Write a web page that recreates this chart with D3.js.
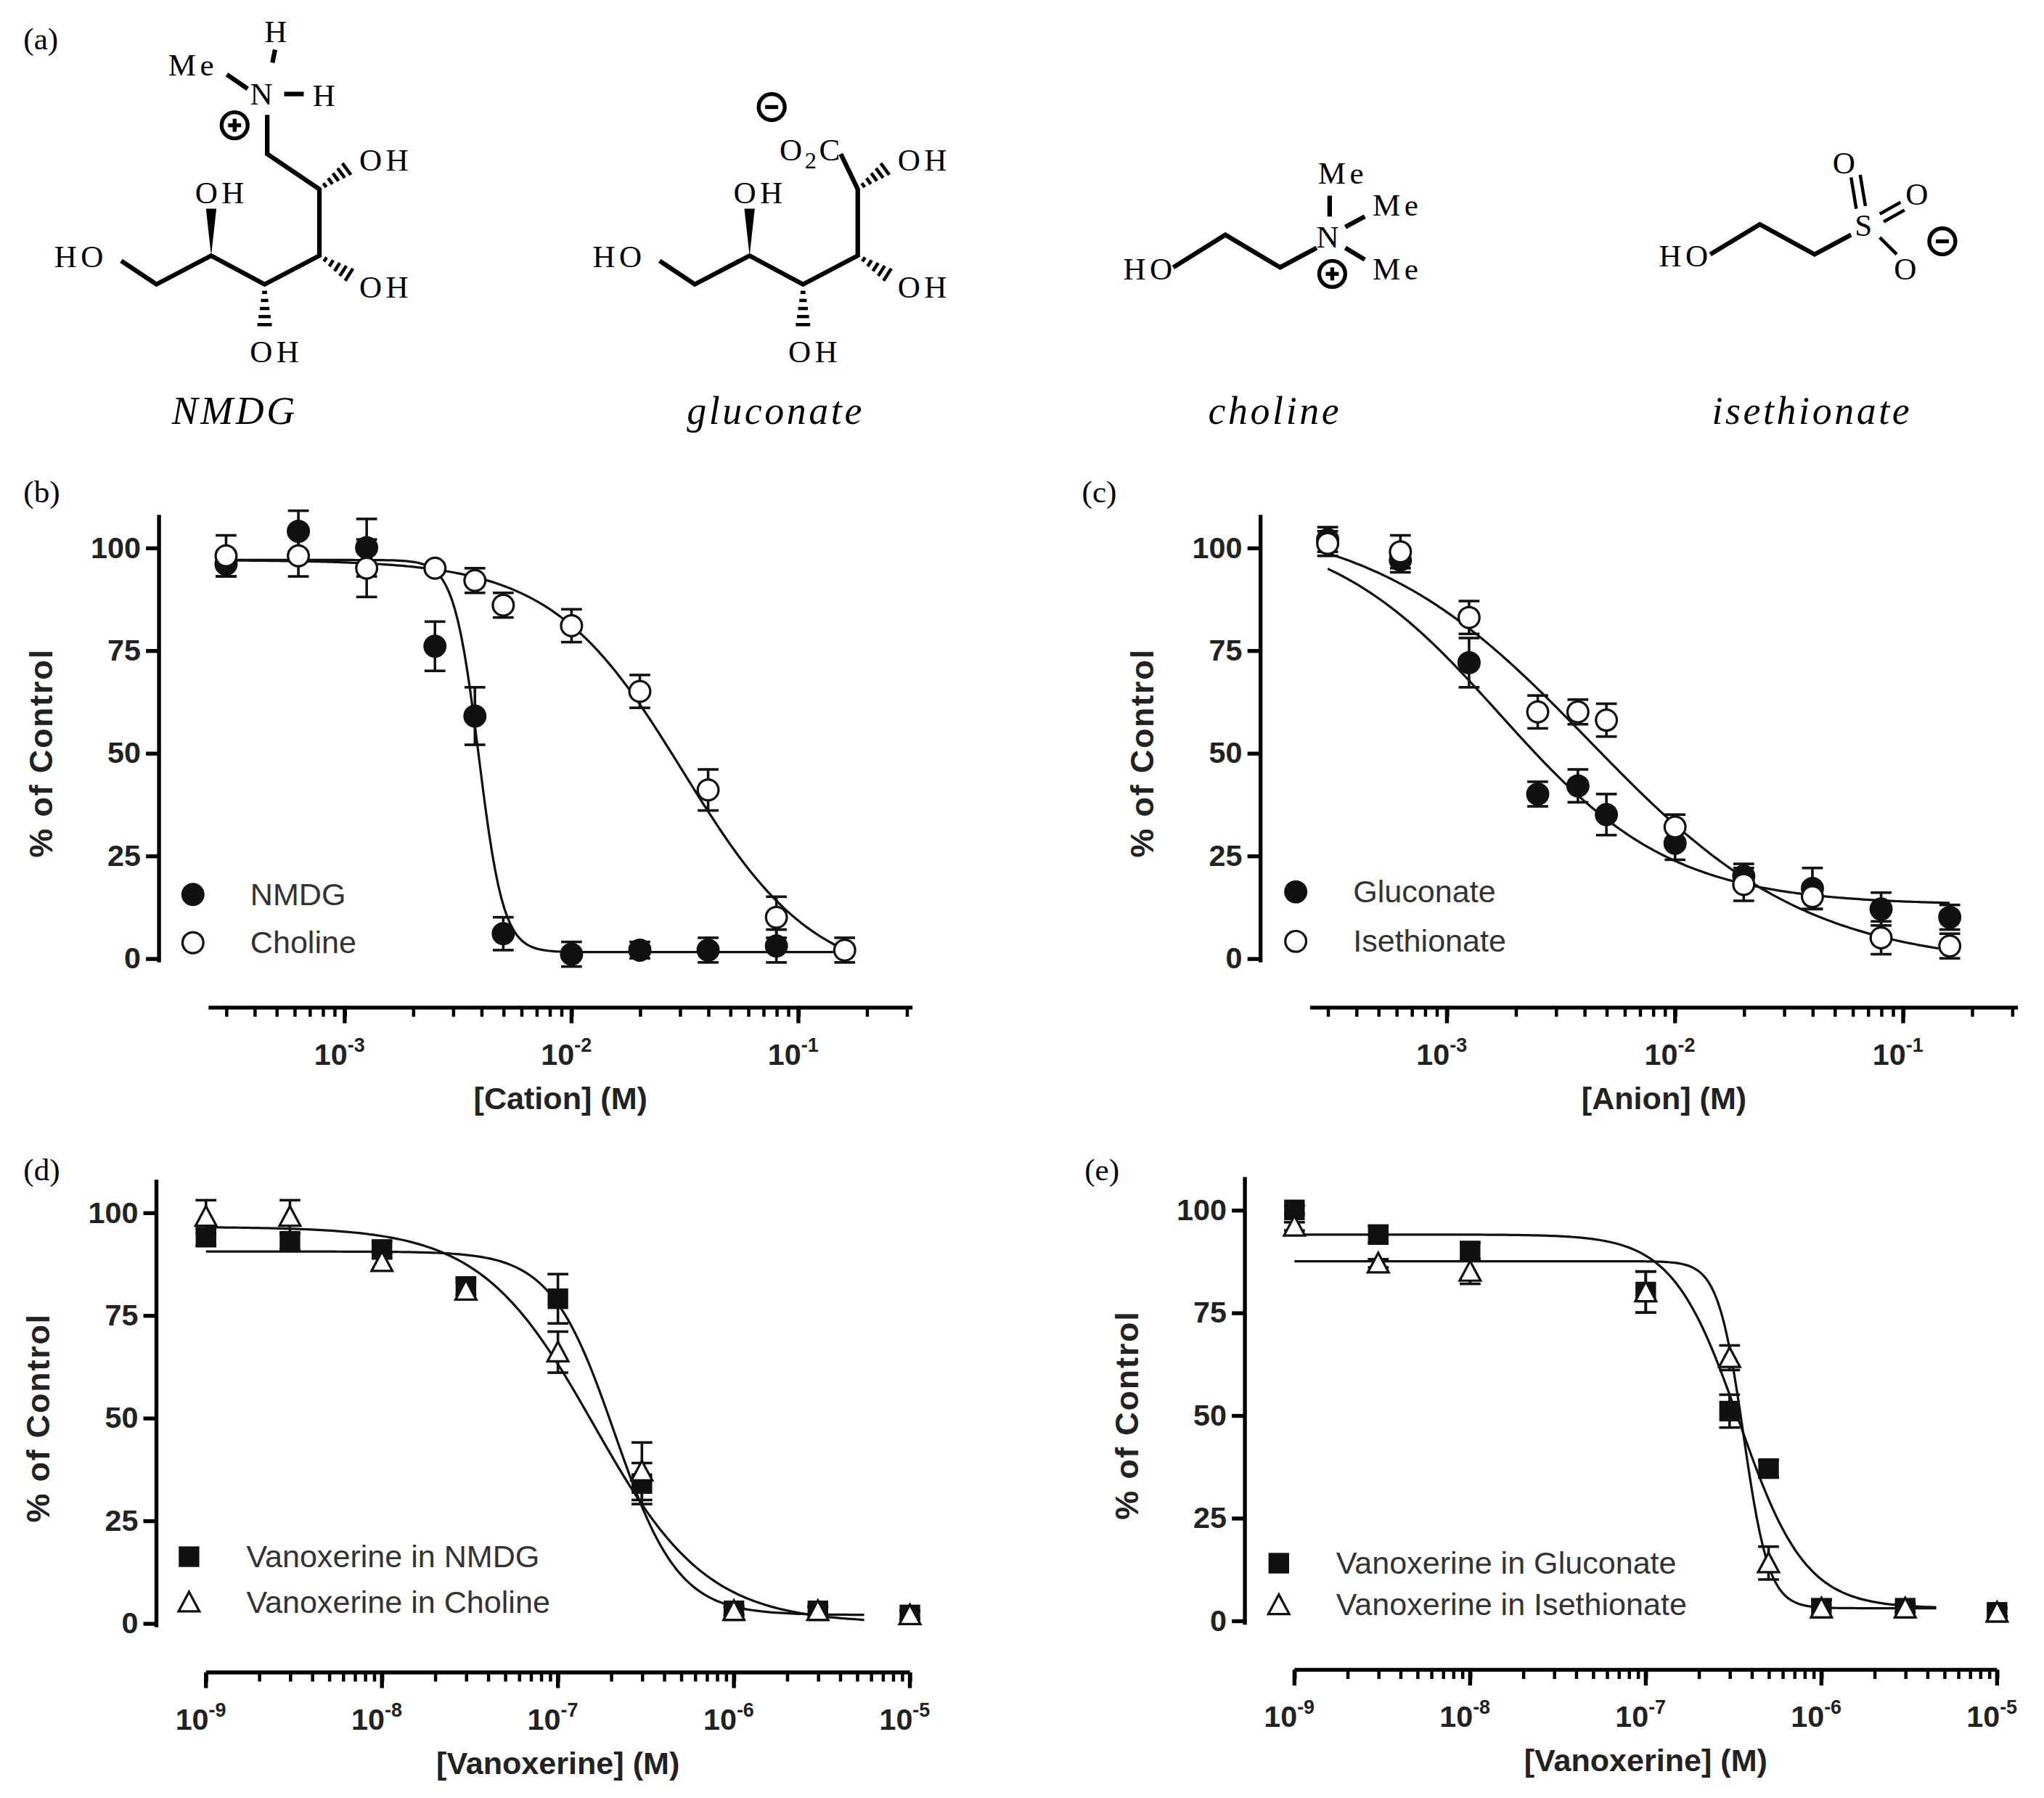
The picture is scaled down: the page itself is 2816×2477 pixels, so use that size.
<!DOCTYPE html>
<html><head><meta charset="utf-8">
<script src="https://cdn.jsdelivr.net/npm/d3@7"></script>
<style>body{margin:0;background:#fff}</style>
</head><body>
<script>
// panel data (concentrations in M, response in % of control)
var concB = [3e-4, 6.25e-4, 1.25e-3, 2.5e-3, 3.75e-3, 5e-3, 1e-2, 2e-2, 4e-2, 8e-2, 1.6e-1];
var nmdgY = [96, 104, 100, 76, 59, 6, 1, 2, 2, 3, null];
var nmdgE = [3, 5, 7, 6, 7, 4, 3, 2, 3, 4, null];
var cholY = [98, 98, 95, 95, 92, 86, 81, 65, 41, 10, 2];
var cholE = [5, 5, 7, 1, 3, 3, 4, 4, 5, 5, 3];
var glucY = [102, 97, 72, 40, 42, 35, 28, 20, 17, 12, 10];
var glucE = [3, 3, 6, 3, 4, 5, 4, 3, 5, 4, 3];
var iseY = [101, 99, 83, 60, 60, 58, 32, 18, 15, 5, 3];
var iseE = [3, 4, 4, 4, 3, 4, 3, 4, 3, 4, 3];

var concD = [1e-9, 3e-9, 1e-8, 3e-8, 1e-7, 3e-7, 1e-6, 3e-6, 1e-5];
var vNmdgY = [94, 93, 91, 82, 79, 34, 3, 3, 2];
var vNmdgE = [2, 2, 2, 2, 6, 5, 1, 1, 1];
var vCholY = [99, 99, 88, 81, 66, 37, 3, 3, 2];
var vCholE = [4, 4, 2, 2, 5, 7, 1, 1, 1];
var concE = [1e-9, 3e-9, 1e-8, 1e-7, 3e-7, 5e-7, 1e-6, 3e-6, 1e-5];
var vGlucY = [100, 94, 90, 80, 51, 37, 3, 3, 2];
var vGlucE = [1, 2, 2, 5, 4, 2, 2, 1, 1];
var vIseY = [96, 87, 85, 80, 64, 14, 3, 3, 2];
var vIseE = [1, 1, 3, 5, 3, 4, 2, 1, 1];

// fitted curves: [top, bottom, IC50, hill, xStart, xEnd]
var fitNmdg = [97, 1.5, 3.9e-3, 8, 3e-4, 1.6e-1];
var fitChol = [97, -6, 3.1e-2, 1.5, 3e-4, 1.6e-1];
var fitGluc = [106, 13, 1.7e-3, 1.15, 3e-4, 1.6e-1];
var fitIse = [108, -2, 4.2e-3, 0.9, 3e-4, 1.6e-1];
var fitVNmdg = [90.5, 2, 2.1e-7, 2.4, 1e-9, 5.5e-6];
var fitVChol = [96.5, 0, 1.6e-7, 1.35, 1e-9, 5.5e-6];
var fitVGluc = [94, 3, 3.4e-7, 2.3, 1e-9, 4.5e-6];
var fitVIse = [87.5, 3, 3.6e-7, 6, 1e-9, 4.5e-6];

var yTicks = [0, 25, 50, 75, 100];

var svg = d3.select('body').append('svg')
  .attr('width', 2816).attr('height', 2477)
  .attr('viewBox', '0 0 1568 1379');

var serif = 'Liberation Serif';
var sans = 'Liberation Sans';

// ---------- (a) structures ----------
var st = svg.append('g').attr('font-family', serif).attr('font-size', 24).attr('fill', '#000');
function bond(pts, w) {
  st.append('polyline').attr('points', pts.map(function(p){return p.join(',');}).join(' '))
    .attr('fill', 'none').attr('stroke', '#000').attr('stroke-width', w || 3.5).attr('stroke-linejoin', 'miter');
}
function txt(x, y, s, anchor) {
  st.append('text').attr('x', x).attr('y', y).attr('text-anchor', anchor || 'middle')
    .attr('letter-spacing', 3).text(s);
}
function wedge(x1, y1, x2, y2) {
  var dx = x2 - x1, dy = y2 - y1, l = Math.hypot(dx, dy), nx = -dy / l * 4, ny = dx / l * 4;
  st.append('polygon').attr('points', [[x1, y1], [x2 + nx, y2 + ny], [x2 - nx, y2 - ny]].join(' '));
}
function hash(x1, y1, x2, y2) {
  var dx = x2 - x1, dy = y2 - y1, l = Math.hypot(dx, dy), nx = -dy / l, ny = dx / l;
  for (var i = 1; i <= 5; i++) {
    var t = i / 5.5, w = 1 + t * 5;
    st.append('line').attr('x1', x1 + dx * t + nx * w).attr('y1', y1 + dy * t + ny * w)
      .attr('x2', x1 + dx * t - nx * w).attr('y2', y1 + dy * t - ny * w)
      .attr('stroke', '#000').attr('stroke-width', 2.5);
  }
}
function charge(x, y, plus) {
  st.append('circle').attr('cx', x).attr('cy', y).attr('r', 10).attr('fill', 'none').attr('stroke', '#000').attr('stroke-width', 3);
  st.append('line').attr('x1', x - 5).attr('x2', x + 5).attr('y1', y).attr('y2', y).attr('stroke', '#000').attr('stroke-width', 3);
  if (plus) st.append('line').attr('x1', x).attr('x2', x).attr('y1', y - 5).attr('y2', y + 5).attr('stroke', '#000').attr('stroke-width', 3);
}
function chain(ox, nmdg) {
  txt(ox + 62, 205, 'HO');
  if (nmdg) {
    bond([[ox + 93, 200], [ox + 120, 218], [ox + 162, 196], [ox + 203, 218], [ox + 245, 196], [ox + 245, 145], [ox + 205, 118], [ox + 205, 88]]);
  } else {
    bond([[ox + 93, 200], [ox + 120, 218], [ox + 162, 196], [ox + 203, 218], [ox + 245, 196], [ox + 245, 145], [ox + 232, 118]]);
  }
  wedge(ox + 162, 196, ox + 162, 160);
  txt(ox + 170, 156, 'OH');
  hash(ox + 203, 218, ox + 203, 252);
  txt(ox + 212, 278, 'OH');
  hash(ox + 245, 145, ox + 268, 128);
  txt(ox + 296, 131, 'OH');
  hash(ox + 245, 196, ox + 270, 212);
  txt(ox + 296, 228, 'OH');
}
chain(0, true);
txt(148, 58, 'Me'); bond([[174, 57], [190, 68]]);
txt(202, 80, 'N');
txt(213, 32, 'H'); bond([[211, 38], [209, 48]]);
bond([[218, 72], [233, 72]]); txt(250, 81, 'H');
charge(180, 96, true);
chain(413, false);
st.append('text').attr('x', 598).attr('y', 123).attr('letter-spacing', 2).text('O').append('tspan').attr('dy', 6).attr('font-size', 18).text('2')
  .select(function(){return this.parentNode;}).append('tspan').attr('dy', -6).text('C');
charge(592, 82, false);
// choline
txt(882, 214, 'HO');
bond([[900, 205], [940, 180], [982, 205], [1010, 190]]);
txt(1020, 190, 'N');
txt(1030, 141, 'Me', 'middle'); bond([[1020, 150], [1020, 166]]);
bond([[1032, 174], [1047, 166]]); txt(1072, 165, 'Me');
bond([[1032, 190], [1047, 199]]); txt(1072, 214, 'Me');
charge(1022, 210, true);
// isethionate
txt(1293, 204, 'HO');
bond([[1312, 195], [1350, 172], [1392, 195], [1420, 180]]);
txt(1431, 181, 'S');
bond([[1424, 160], [1420, 136]], 2.5); bond([[1431, 158], [1427, 134]], 2.5);
txt(1416, 133, 'O');
bond([[1442, 164], [1458, 155]], 2.5); bond([[1445, 170], [1461, 161]], 2.5);
txt(1472, 157, 'O');
bond([[1442, 182], [1455, 195]], 2.5);
txt(1463, 214, 'O');
charge(1490, 185, false);
// names
[['NMDG', 180], ['gluconate', 595], ['choline', 978], ['isethionate', 1390]].forEach(function(d) {
  st.append('text').attr('x', d[1]).attr('y', 325).attr('text-anchor', 'middle').attr('font-style', 'italic')
    .attr('font-size', 30).attr('letter-spacing', 2).text(d[0]);
});

// panel labels
[['(a)', 18, 38], ['(b)', 18, 385], ['(c)', 830, 385], ['(d)', 18, 905], ['(e)', 832, 905]].forEach(function(d) {
  svg.append('text').attr('x', d[1]).attr('y', d[2]).attr('font-family', serif).attr('font-size', 24).text(d[0]);
});

// ---------- dose-response panels ----------
function sup(sel, e) {
  sel.text('10').append('tspan').attr('dy', -10).attr('font-size', 15).text(e);
}
function hill(f, x) { return f[1] + (f[0] - f[1]) / (1 + Math.pow(x / f[2], f[3])); }

function panel(o) {
  var g = svg.append('g');
  var y = d3.scaleLinear().domain([0, 100]).range([o.y0, o.y100]);
  var x = d3.scaleLog().domain(o.xd).range([o.xl, o.xr]);
  var axY = o.xl - 38;
  var xAxisY = y(-12);
  // y axis
  g.append('line').attr('x1', axY).attr('x2', axY).attr('y1', y(108)).attr('y2', y(-1)).attr('stroke', '#000').attr('stroke-width', 3);
  var ya = g.append('g').attr('transform', 'translate(' + axY + ',0)')
    .call(d3.axisLeft(y).tickValues(yTicks).tickSize(10).tickPadding(4));
  ya.select('.domain').remove();
  ya.selectAll('line').attr('stroke-width', 3);
  ya.selectAll('text').attr('font-family', sans).attr('font-weight', 'bold').attr('font-size', 23).attr('fill', '#222');
  // x axis
  var maj = [], all = [];
  var lo = Math.floor(Math.log10(o.xd[0])), hi = Math.ceil(Math.log10(o.xd[1]));
  for (var e = lo; e <= hi; e++) {
    for (var k = 1; k <= 9; k++) {
      var v = k * Math.pow(10, e);
      if (v >= o.xd[0] * 0.999 && v <= o.xd[1] * 1.001) { all.push(v); if (k === 1) maj.push(v); }
    }
  }
  g.append('line').attr('x1', o.xl).attr('x2', o.xr).attr('y1', xAxisY).attr('y2', xAxisY).attr('stroke', '#000').attr('stroke-width', 3);
  var xa = g.append('g').attr('transform', 'translate(0,' + xAxisY + ')')
    .call(d3.axisBottom(x).tickValues(all).tickSize(7).tickFormat(''));
  xa.select('.domain').remove();
  xa.selectAll('line').attr('stroke-width', 2.5);
  g.selectAll('.maj').data(maj).enter().append('line')
    .attr('x1', function(d){return x(d);}).attr('x2', function(d){return x(d);})
    .attr('y1', xAxisY).attr('y2', xAxisY + 12).attr('stroke', '#000').attr('stroke-width', 3);
  g.selectAll('.xl').data(maj).enter().append('text')
    .attr('x', function(d){return x(d) - 4;}).attr('y', xAxisY + 44).attr('text-anchor', 'middle')
    .attr('font-family', sans).attr('font-weight', 'bold').attr('font-size', 23).attr('fill', '#222')
    .each(function(d){ sup(d3.select(this), String(Math.round(Math.log10(d)))); });
  g.append('text').attr('x', (o.xl + o.xr) / 2).attr('y', xAxisY + 78).attr('text-anchor', 'middle')
    .attr('font-family', sans).attr('font-weight', 'bold').attr('font-size', 24).attr('fill', '#222').text(o.xlabel);
  g.append('text').attr('transform', 'translate(' + (axY - 82) + ',' + y(50) + ') rotate(-90)')
    .attr('text-anchor', 'middle').attr('font-family', sans).attr('font-weight', 'bold').attr('font-size', 25)
    .attr('letter-spacing', 1).attr('fill', '#222').text('% of Control');

  o.series.forEach(function(s, si) {
    var f = s.fit;
    var xs = d3.range(0, 201).map(function(i){ return Math.pow(10, Math.log10(f[4]) + (Math.log10(f[5]) - Math.log10(f[4])) * i / 200); });
    g.append('path').datum(xs).attr('fill', 'none').attr('stroke', '#111').attr('stroke-width', 1.8)
      .attr('d', d3.line().x(function(d){return x(d);}).y(function(d){return y(hill(f, d));}));
    var pts = s.x.map(function(c, i){ return {c: c, v: s.y[i], e: s.e[i]}; }).filter(function(d){ return d.v !== null; });
    var eb = g.selectAll(null).data(pts).enter().append('g').attr('stroke', '#111').attr('stroke-width', 2);
    eb.append('line').attr('x1', function(d){return x(d.c);}).attr('x2', function(d){return x(d.c);})
      .attr('y1', function(d){return y(d.v + d.e);}).attr('y2', function(d){return y(d.v - d.e);});
    [1, -1].forEach(function(sg) {
      eb.append('line').attr('x1', function(d){return x(d.c) - 8;}).attr('x2', function(d){return x(d.c) + 8;})
        .attr('y1', function(d){return y(d.v + sg * d.e);}).attr('y2', function(d){return y(d.v + sg * d.e);});
    });
    function mark(sel, cx, cy) {
      if (s.shape === 'circle') {
        sel.append('circle').attr('cx', cx).attr('cy', cy).attr('r', 8);
      } else if (s.shape === 'square') {
        sel.append('rect').attr('x', function(d){return (typeof cx === 'function' ? cx(d) : cx) - 7;})
          .attr('y', function(d){return (typeof cy === 'function' ? cy(d) : cy) - 7;}).attr('width', 14).attr('height', 14);
      } else {
        sel.append('path').attr('d', function(d){
          var px = typeof cx === 'function' ? cx(d) : cx, py = typeof cy === 'function' ? cy(d) : cy;
          return 'M' + px + ',' + (py - 8) + 'L' + (px + 8) + ',' + (py + 7) + 'L' + (px - 8) + ',' + (py + 7) + 'Z';
        });
      }
      sel.selectAll('circle,rect,path').attr('fill', s.fill ? '#111' : '#fff').attr('stroke', '#111').attr('stroke-width', 1.8);
    }
    var ms = g.append('g').selectAll(null).data(pts).enter().append('g');
    mark(ms, function(d){return x(d.c);}, function(d){return y(d.v);});
    var lg = g.append('g').datum({});
    mark(lg, o.legX, o.legY + si * o.legDy);
    g.append('text').attr('x', o.legX + 44).attr('y', o.legY + si * o.legDy + 8).attr('font-family', sans)
      .attr('font-size', 24).attr('fill', '#333').text(s.name);
  });
}

panel({xl: 160, xr: 700, xd: [Math.pow(10, -3.6), Math.pow(10, -0.497)], y0: 735, y100: 420,
  xlabel: '[Cation] (M)', legX: 148, legY: 686, legDy: 37,
  series: [
    {name: 'NMDG', x: concB, y: nmdgY, e: nmdgE, fit: fitNmdg, shape: 'circle', fill: true},
    {name: 'Choline', x: concB, y: cholY, e: cholE, fit: fitChol, shape: 'circle', fill: false}
  ]});
panel({xl: 1005, xr: 1548, xd: [Math.pow(10, -3.6), Math.pow(10, -0.497)], y0: 735, y100: 420,
  xlabel: '[Anion] (M)', legX: 994, legY: 684, legDy: 38,
  series: [
    {name: 'Gluconate', x: concB, y: glucY, e: glucE, fit: fitGluc, shape: 'circle', fill: true},
    {name: 'Isethionate', x: concB, y: iseY, e: iseE, fit: fitIse, shape: 'circle', fill: false}
  ]});
panel({xl: 158, xr: 698, xd: [1e-9, 1e-5], y0: 1245, y100: 930,
  xlabel: '[Vanoxerine] (M)', legX: 145, legY: 1194, legDy: 35,
  series: [
    {name: 'Vanoxerine in NMDG', x: concD, y: vNmdgY, e: vNmdgE, fit: fitVNmdg, shape: 'square', fill: true},
    {name: 'Vanoxerine in Choline', x: concD, y: vCholY, e: vCholE, fit: fitVChol, shape: 'triangle', fill: false}
  ]});
panel({xl: 993, xr: 1532, xd: [1e-9, 1e-5], y0: 1243, y100: 928,
  xlabel: '[Vanoxerine] (M)', legX: 981, legY: 1199, legDy: 32,
  series: [
    {name: 'Vanoxerine in Gluconate', x: concE, y: vGlucY, e: vGlucE, fit: fitVGluc, shape: 'square', fill: true},
    {name: 'Vanoxerine in Isethionate', x: concE, y: vIseY, e: vIseE, fit: fitVIse, shape: 'triangle', fill: false}
  ]});
</script>
</body></html>
